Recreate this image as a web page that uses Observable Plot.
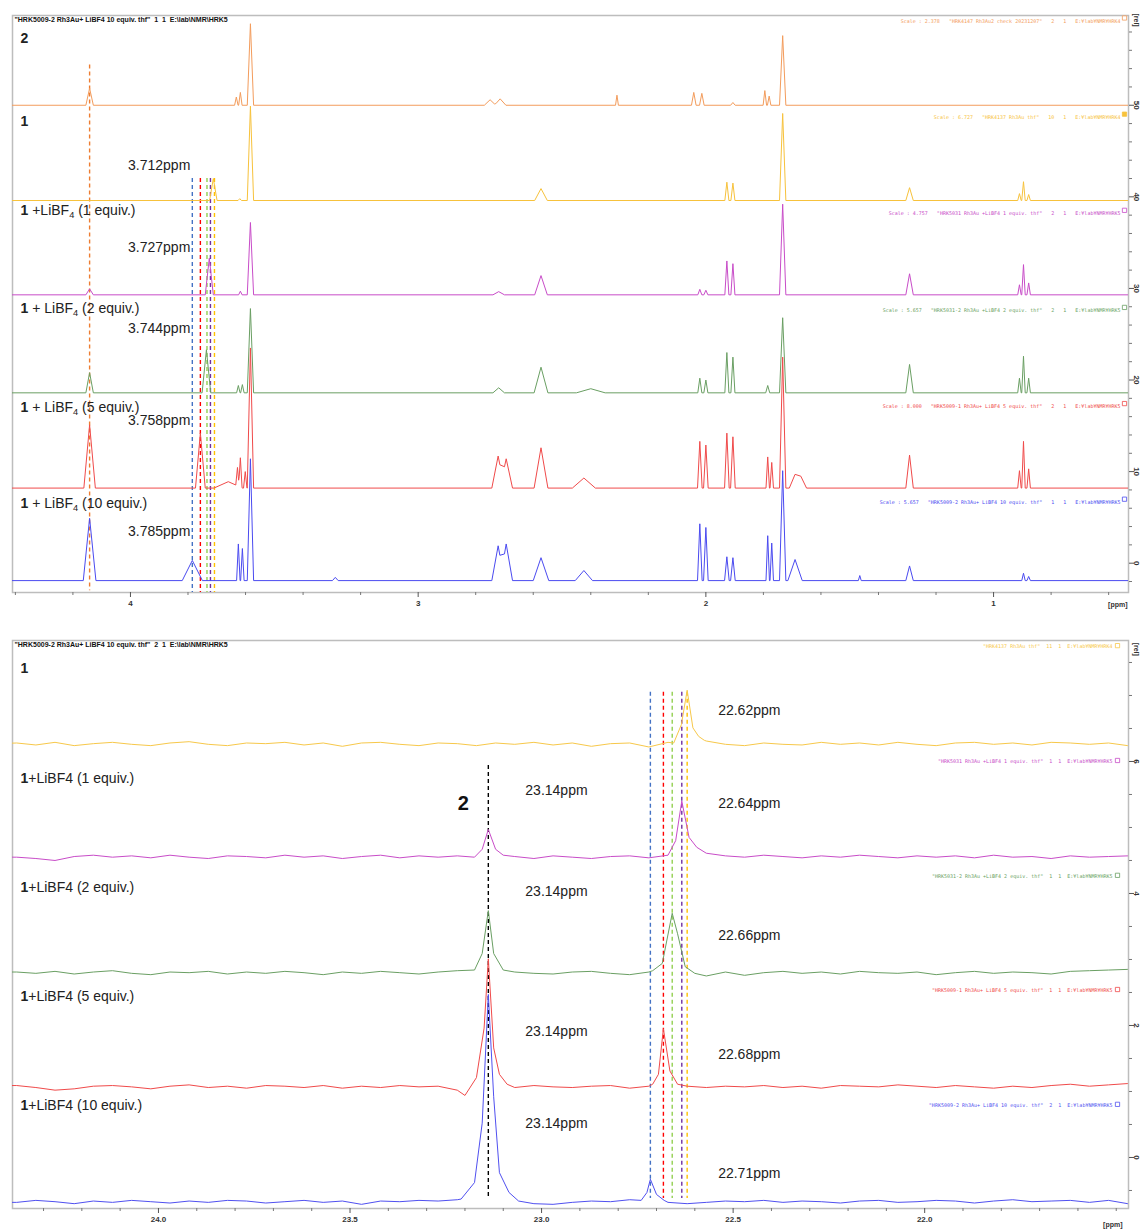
<!DOCTYPE html>
<html><head><meta charset="utf-8">
<script src="https://cdn.jsdelivr.net/npm/d3@7"></script>
<script src="https://cdn.jsdelivr.net/npm/@observablehq/plot@0.6"></script>
<style>
html,body{margin:0;padding:0;background:#fff;width:1140px;height:1230px;overflow:hidden;}
#top{position:absolute;left:0;top:0;}
#bot{position:absolute;left:0;top:625px;}
svg text{white-space:pre;}
</style></head><body><div id="top"></div><div id="bot"></div>
<script>
// ================= TOP PANEL (1H) DATA =================
// peaks: [ppm, height (rel), half-width (ppm)]
const orange2 = [[4.142,1.85,0.013],[3.632,0.9,0.006],[3.618,1.4,0.006],[3.583,8.9,0.011],[2.75,0.6,0.02],[2.715,0.7,0.02],[2.309,1.1,0.005],[2.042,1.4,0.008],[2.014,1.3,0.008],[1.906,0.3,0.008],[1.795,1.6,0.006],[1.780,1.0,0.006],[1.733,7.6,0.011]];
const yellow1 = [[3.712,2.4,0.013],[3.62,0.2,0.006],[3.583,10.3,0.011],[2.573,1.3,0.022],[1.927,2.0,0.007],[1.906,1.9,0.007],[1.733,9.5,0.011],[1.292,1.4,0.013],[0.910,0.75,0.006],[0.896,2.05,0.006],[0.878,0.65,0.006]];
const magenta1 = [[4.142,0.65,0.013],[3.726,4.0,0.014],[3.618,0.4,0.006],[3.583,7.9,0.011],[2.72,0.35,0.02],[2.573,2.1,0.022],[2.021,0.6,0.007],[2.0,0.5,0.007],[1.927,3.7,0.007],[1.906,3.4,0.007],[1.733,9.9,0.011],[1.292,2.3,0.013],[0.910,1.1,0.006],[0.896,3.3,0.006],[0.878,1.3,0.006]];
const green2 = [[4.142,2.2,0.013],[3.736,4.7,0.015],[3.625,0.8,0.006],[3.611,0.9,0.006],[3.583,9.2,0.011],[2.72,0.55,0.02],[2.573,2.8,0.024],[2.40,0.45,0.05],[2.021,1.6,0.007],[2.0,1.4,0.007],[1.927,4.4,0.007],[1.906,3.9,0.007],[1.785,0.8,0.007],[1.733,8.2,0.011],[1.292,3.1,0.013],[0.910,1.6,0.006],[0.896,4.0,0.006],[0.878,1.6,0.006]];
const red5 = [[4.142,6.9,0.02],[3.757,6.0,0.017],[3.66,0.7,0.05],[3.628,2.0,0.006],[3.618,3.2,0.006],[3.601,1.8,0.006],[3.583,15.3,0.011],[2.722,3.5,0.022],[2.694,3.2,0.022],[2.573,4.4,0.024],[2.424,1.1,0.04],[2.021,5.1,0.008],[2.0,4.7,0.008],[1.927,6.0,0.008],[1.906,5.6,0.008],[1.785,3.4,0.006],[1.771,2.8,0.006],[1.733,14.3,0.011],[1.69,1.5,0.02],[1.67,1.3,0.02],[1.292,3.6,0.013],[0.910,1.9,0.006],[0.896,5.1,0.006],[0.878,2.1,0.006]];
const blue10 = [[4.142,6.8,0.022],[3.785,2.2,0.035],[3.625,4.0,0.006],[3.611,3.5,0.006],[3.583,13.3,0.011],[3.288,0.35,0.01],[2.722,3.8,0.022],[2.694,4.0,0.022],[2.573,2.5,0.027],[2.424,1.1,0.03],[2.021,6.2,0.008],[2.0,5.8,0.008],[1.927,2.6,0.008],[1.906,2.5,0.008],[1.785,4.9,0.006],[1.771,4.1,0.006],[1.733,12.0,0.011],[1.69,2.3,0.025],[1.465,0.55,0.005],[1.292,1.6,0.013],[0.896,0.8,0.006],[0.878,0.45,0.006]];
const topOffsets = [50, 39.6, 29.3, 18.6, 8.2, -1.9];
const topColors = ["#f39c5c","#f7c23c","#c84cc8","#6a9f63","#f04a4a","#4a4af0"];
const topTraceLabels = ["**2**","**1**","**1** +LiBF_4 (1 equiv.)","**1** + LiBF_4 (2 equiv.)","**1** + LiBF_4 (5 equiv.)","**1** + LiBF_4 (10 equiv.)"];
const topTraceLabelY = [57.3, 48.25, 38.5, 27.8, 17.0, 6.55];
const topHeaders = [
 'Scale : 2.378   "HRK4147 Rh3Au2 check 20231207"   2   1   E:¥lab¥NMR¥HRK4',
 'Scale : 6.727   "HRK4137 Rh3Au thf"   10   1   E:¥lab¥NMR¥HRK4',
 'Scale : 4.757   "HRK5031 Rh3Au +LiBF4 1 equiv. thf"   2   1   E:¥lab¥NMR¥HRK5',
 'Scale : 5.657   "HRK5031-2 Rh3Au +LiBF4 2 equiv. thf"   2   1   E:¥lab¥NMR¥HRK5',
 'Scale : 8.000   "HRK5009-1 Rh3Au+ LiBF4 5 equiv. thf"   2   1   E:¥lab¥NMR¥HRK5',
 'Scale : 5.657   "HRK5009-2 Rh3Au+ LiBF4 10 equiv. thf"   1   1   E:¥lab¥NMR¥HRK5'];
const topHeaderY = [59.2, 48.7, 38.2, 27.6, 17.1, 6.66];
const topHeaderFilled = [false, true, false, false, false, false];
const topFileHeader = '"HRK5009-2 Rh3Au+ LiBF4 10 equiv. thf"  1  1  E:\\lab\\NMR\\HRK5';
const topShiftPpm = [3.785, 3.757, 3.734, 3.722, 3.708];
const topShiftColors = ["#4472c4","#ff0000","#92d050","#7030a0","#ffc000"];
const topShiftLabels = ["3.712ppm","3.727ppm","3.744ppm","3.758ppm","3.785ppm"];
const topShiftLabelY = [43.45, 34.5, 25.65, 15.6, 3.5];
const topRefPpm = 4.142;
const topXMajor = [4,3,2,1];
const topXMinor = [4.4,4.2,3.8,3.6,3.4,3.2,2.8,2.6,2.4,2.2,1.8,1.6,1.4,1.2,0.8,0.6];
const topYMajor = [0,10,20,30,40,50];
const topYMinor = [-2,2,4,6,8,12,14,16,18,22,24,26,28,32,34,36,38,42,44,46,48,52,54,56,58];

// ================= BOTTOM PANEL (31P) DATA =================
const gridB = [24.42,24.37,24.32,24.27,24.22,24.17,24.12,24.07,24.02,23.97,
 23.92,23.87,23.82,23.77,23.72,23.67,23.62,23.57,23.52,23.47,
 23.42,23.37,23.32,23.27,23.22,23.17,23.12,23.07,23.02,22.97,
 22.92,22.87,22.82,22.77,22.72,22.67,22.62,22.57,22.52,22.47,
 22.42,22.37,22.32,22.27,22.22,22.17,22.12,22.07,22.02,21.97,
 21.92,21.87,21.82,21.77,21.72,21.67,21.62,21.57,21.52,21.47,21.42];
const yellowN = [0.01,0.02,-0.01,0.03,-0.02,0.01,0.03,0.00,-0.02,0.02,
 0.04,0.00,-0.02,0.02,0.01,0.03,-0.01,0.02,-0.03,0.02,
 0.03,0.00,-0.02,0.02,0.01,-0.02,0.02,0.00,0.03,-0.01,
 0.02,-0.03,0.01,0.02,-0.04,0.03,0.00,0.05,0.00,-0.02,
 0.02,0.00,-0.01,0.03,0.00,0.02,-0.01,0.03,0.00,-0.02,
 0.02,0.03,0.00,0.02,-0.01,0.03,0.02,0.00,0.02,-0.02,-0.03];
const magentaN = [0.00,0.00,-0.02,-0.05,0.01,0.03,0.00,0.02,-0.01,0.03,
 0.00,-0.02,0.02,0.01,-0.01,0.03,0.00,0.02,-0.02,0.01,
 0.03,-0.01,0.02,0.00,0.02,0.00,0.00,0.01,-0.02,0.02,
 0.00,-0.02,0.01,0.02,-0.01,0.02,0.00,0.05,0.02,0.00,
 0.03,0.01,-0.01,0.02,0.00,0.03,0.01,-0.01,0.02,0.00,
 0.02,-0.01,0.03,0.00,0.01,-0.02,0.02,0.00,0.01,0.02,0.01];
const greenN = [0.02,0.02,0.00,0.03,-0.01,0.02,0.04,0.00,-0.02,0.02,
 0.01,0.03,-0.01,0.02,0.00,0.03,0.01,-0.02,0.02,0.00,
 0.03,0.01,-0.01,0.02,0.04,0.00,0.00,0.02,0.00,-0.01,
 0.02,0.03,0.00,-0.02,0.02,0.05,0.00,-0.04,0.02,-0.03,
 0.01,0.03,0.00,0.02,-0.01,0.03,0.01,0.00,0.02,-0.02,
 0.01,0.03,0.00,0.02,0.01,-0.01,0.03,0.04,0.05,0.06,0.06];
const redN = [0.03,0.03,0.00,-0.04,-0.02,0.02,0.03,0.01,-0.02,0.02,
 0.04,0.00,0.02,-0.01,0.03,0.02,0.00,0.03,-0.01,0.02,
 0.00,0.03,0.01,0.02,-0.04,0.00,0.00,0.00,0.03,0.01,
 0.00,0.02,0.03,-0.01,0.02,0.00,0.02,0.00,0.02,0.01,
 0.03,0.00,0.02,-0.01,0.03,0.02,0.01,0.04,0.02,0.00,
 0.03,0.01,-0.01,0.02,0.00,0.03,0.05,0.02,0.04,0.06,0.03];
const blueN = [0.00,0.00,0.03,0.01,-0.02,0.02,0.00,0.03,0.01,-0.01,
 0.02,0.00,0.03,0.02,-0.01,0.01,0.03,0.00,0.02,-0.03,
 0.02,0.01,0.03,0.02,0.04,0.00,0.00,0.00,-0.02,-0.03,
 0.00,0.02,0.01,0.04,0.00,0.00,-0.02,0.00,0.02,0.01,
 0.03,0.00,0.02,0.01,-0.01,0.02,0.03,0.00,0.01,0.03,
 0.02,-0.01,0.02,0.04,0.01,0.02,0.03,0.00,0.03,-0.02,-0.02];
// peak outlines: lists of [ppm, value] vertices
const yellowPk = [[[22.655,0.02],[22.635,0.3],[22.620,0.82],[22.605,0.25],[22.59,0.12],[22.575,0.06]]];
const magentaPk = [[[23.175,0.0],[23.155,0.12],[23.139,0.42],[23.12,0.12],[23.10,0.03]],
 [[22.67,0.03],[22.65,0.25],[22.634,0.85],[22.615,0.3],[22.595,0.15],[22.57,0.06]]];
const greenPk = [[[23.175,0.05],[23.155,0.3],[23.139,0.95],[23.125,0.3],[23.10,0.05]],
 [[22.71,0.04],[22.685,0.15],[22.659,0.91],[22.645,0.6],[22.625,0.1],[22.60,0.0]]];
const redPk = [[[23.20,-0.12],[23.17,0.15],[23.15,0.9],[23.139,1.95],[23.125,0.6],[23.11,0.2],[23.09,0.05]],
 [[22.71,0.05],[22.695,0.2],[22.682,0.89],[22.665,0.25],[22.645,0.05]]];
const bluePk = [[[23.21,0.05],[23.175,0.3],[23.155,1.2],[23.139,3.15],[23.125,1.6],[23.11,0.45],[23.085,0.15],[23.06,0.02]],
 [[22.74,0.03],[22.725,0.15],[22.716,0.35],[22.70,0.12],[22.68,0.03]]];
const botOffsets = [6.26, 4.55, 2.79, 1.06, -0.68];
const botColors = ["#f7c84a","#c84cc8","#6a9f63","#f04a4a","#5050f0"];
const botTraceLabels = ["**1**","**1**+LiBF4 (1 equiv.)","**1**+LiBF4 (2 equiv.)","**1**+LiBF4 (5 equiv.)","**1**+LiBF4 (10 equiv.)"];
const botTraceLabelY = [7.41, 5.74, 4.09, 2.44, 0.79];
const botHeaders = [
 '"HRK4137 Rh3Au thf"  11  1  E:¥lab¥NMR¥HRK4',
 '"HRK5031 Rh3Au +LiBF4 1 equiv. thf"  1  1  E:¥lab¥NMR¥HRK5',
 '"HRK5031-2 Rh3Au +LiBF4 2 equiv. thf"  1  1  E:¥lab¥NMR¥HRK5',
 '"HRK5009-1 Rh3Au+ LiBF4 5 equiv. thf"  1  1  E:¥lab¥NMR¥HRK5',
 '"HRK5009-2 Rh3Au+ LiBF4 10 equiv. thf"  2  1  E:¥lab¥NMR¥HRK5'];
const botHeaderY = [7.74, 6.0, 4.26, 2.53, 0.79];
const botFileHeader = '"HRK5009-2 Rh3Au+ LiBF4 10 equiv. thf"  2  1  E:\\lab\\NMR\\HRK5';
const botShiftPpm = [22.716, 22.682, 22.659, 22.634, 22.620];
const botShiftColors = ["#4472c4","#ff0000","#92d050","#7030a0","#ffc000"];
const botShiftLabels = ["22.62ppm","22.64ppm","22.66ppm","22.68ppm","22.71ppm"];
const botShiftLabelY = [6.77, 5.36, 3.36, 1.56, -0.24];
const compound2Ppm = 23.139;
const compound2Labels = ["23.14ppm","23.14ppm","23.14ppm","23.14ppm"];
const compound2LabelY = [5.56, 4.03, 1.91, 0.52];
const botXMajor = [24.0, 23.5, 23.0, 22.5, 22.0];
const botXMinor = [24.3,24.2,24.1,23.9,23.8,23.7,23.6,23.4,23.3,23.2,23.1,22.9,22.8,22.7,22.6,22.4,22.3,22.2,22.1,21.9,21.8,21.7,21.6,21.5];
const botYMajor = [0,2,4,6];
const botYMinor = [-0.5,0.5,1,1.5,2.5,3,3.5,4.5,5,5.5,6.5,7,7.5];

// ================= HELPERS =================
const NS = "http://www.w3.org/2000/svg";
function traceFromPeaks(peaks, lo, hi) {
  const xs = new Set([lo, hi]);
  for (const [p,, w] of peaks) { xs.add(p - w); xs.add(p); xs.add(p + w); }
  return [...xs].sort((a, b) => b - a).map(x => [x, d3.sum(peaks, ([p, h, w]) => Math.max(0, h * (1 - Math.abs(x - p) / w)))]);
}
function traceFromVertices(grid, noise, peaks) {
  const spans = peaks.map(v => [d3.min(v, d => d[0]), d3.max(v, d => d[0])]);
  const pts = grid.map((p, i) => [p, noise[i] ?? 0]).filter(([p]) => !spans.some(([a, b]) => p >= a && p <= b));
  peaks.forEach(v => pts.push(...v));
  return pts.sort((a, b) => b[0] - a[0]);
}
function richify(root) {
  root.querySelectorAll("text").forEach(t => {
    const s = t.textContent;
    if (!s.includes("**") && !s.includes("_")) return;
    while (t.firstChild) t.removeChild(t.firstChild);
    const re = /\*\*([^*]+)\*\*|_(\w)|([^*_]+)/g;
    let m, shift = 0;
    while ((m = re.exec(s))) {
      const ts = document.createElementNS(NS, "tspan");
      if (m[1] != null) { ts.textContent = m[1]; ts.setAttribute("font-weight", "bold"); }
      else if (m[2] != null) {
        ts.textContent = m[2]; ts.setAttribute("font-size", "0.66em"); ts.setAttribute("dy", "3");
        shift = 3; t.appendChild(ts); continue;
      } else ts.textContent = m[3];
      if (shift) { ts.setAttribute("dy", String(-shift)); shift = 0; }
      t.appendChild(ts);
    }
  });
}
const FONT = "'Liberation Sans', Arial, sans-serif";
const MONO = "'DejaVu Sans Mono', monospace";
const FRAME = "#bdbdbd";

// ================= TOP PLOT =================
const topX = [4.41, 0.531], topY = [-3.2, 59.8];
const topLines = [orange2, yellow1, magenta1, green2, red5, blue10].map((pk, i) =>
  Plot.line(traceFromPeaks(pk, 4.45, 0.5).map(([x, v]) => ({x, y: topOffsets[i] + v})),
    {x: "x", y: "y", stroke: topColors[i], strokeWidth: 1, clip: true}));
const topRules = topShiftPpm.map((p, i) => ({x: p, y1: 42.0, y2: topY[0], c: topShiftColors[i]}));
topRules.unshift({x: topRefPpm, y1: 54.4, y2: -3.0, c: "#ed7d31"});
const topHdr = topHeaders.map((t, i) => ({t, y: topHeaderY[i], c: topColors[i], f: topHeaderFilled[i] ? topColors[i] : "white"}));

const topPlot = Plot.plot({
  width: 1140, height: 615, marginTop: 15, marginBottom: 23, marginLeft: 12, marginRight: 12,
  x: {domain: topX}, y: {domain: topY}, color: {type: "identity"},
  style: {fontFamily: FONT, color: "#333", background: "white", overflow: "visible"},
  marks: [
    Plot.frame({stroke: FRAME, strokeWidth: 1.5}),
    Plot.ruleX(topRules, {x: "x", y1: "y1", y2: "y2", stroke: "c", strokeWidth: 1.4, strokeDasharray: "4,3"}),
    ...topLines,
    Plot.axisX({ticks: topXMajor, label: null, tickSize: 5, tickPadding: 3, tickFormat: d => String(d), fontSize: 8, fontWeight: "bold", stroke: "#555"}),
    Plot.axisX({ticks: topXMinor, label: null, tickSize: 3, tickFormat: () => "", stroke: "#777"}),
    Plot.axisY({anchor: "right", label: null, ticks: topYMajor, tickSize: 5, tickFormat: () => "", stroke: "#555"}),
    Plot.axisY({anchor: "right", label: null, ticks: topYMinor, tickSize: 3, tickFormat: () => "", stroke: "#777"}),
    Plot.text(topYMajor, {y: d => d, text: d => String(d), frameAnchor: "right", textAnchor: "middle", dx: 8, rotate: 90, fontSize: 8, fontWeight: "bold", fill: "#333"}),
    Plot.text(["[rel]"], {y: () => 59.3, frameAnchor: "right", textAnchor: "middle", dx: 8, rotate: 90, fontSize: 7, fontWeight: "bold", fill: "#333"}),
    Plot.text(["[ppm]"], {frameAnchor: "bottom-right", textAnchor: "end", dx: -1, dy: 14, fontSize: 7, fontWeight: "bold", fill: "#333"}),
    Plot.text([topFileHeader], {frameAnchor: "top-left", dx: 2, dy: 2, fontSize: 7, fontWeight: "bold", fill: "#111"}),
    Plot.text(topHdr, {y: "y", text: "t", fill: "c", frameAnchor: "right", textAnchor: "end", dx: -8, fontSize: 5, fontFamily: MONO}),
    Plot.dot(topHdr, {y: "y", frameAnchor: "right", dx: -4, dy: -3, symbol: "square", r: 2.4, stroke: "c", fill: "f", strokeWidth: 0.8}),
    Plot.text(topTraceLabels, {y: (d, i) => topTraceLabelY[i], text: d => d, frameAnchor: "left", textAnchor: "start", dx: 8, fontSize: 14, fill: "#222"}),
    Plot.text(topShiftLabels, {x: () => topShiftPpm[0], y: (d, i) => topShiftLabelY[i], text: d => d, textAnchor: "end", dx: -2, fontSize: 14, fill: "#222"})
  ]
});
richify(topPlot);
document.getElementById("top").appendChild(topPlot);

// ================= BOTTOM PLOT =================
const botX = [24.381, 21.468], botY = [-0.773, 7.833];
const botLines = [[yellowN, yellowPk], [magentaN, magentaPk], [greenN, greenPk], [redN, redPk], [blueN, bluePk]].map(([n, pk], i) =>
  Plot.line(traceFromVertices(gridB, n, pk).map(([x, v]) => ({x, y: botOffsets[i] + v})),
    {x: "x", y: "y", stroke: botColors[i], strokeWidth: 1, clip: true}));
const botRules = botShiftPpm.map((p, i) => ({x: p, y1: 7.05, y2: -0.62, c: botShiftColors[i]}));
botRules.unshift({x: compound2Ppm, y1: 5.94, y2: -0.62, c: "#000000"});
const botHdr = botHeaders.map((t, i) => ({t, y: botHeaderY[i], c: botColors[i]}));

const botPlot = Plot.plot({
  width: 1140, height: 605, marginTop: 15, marginBottom: 22, marginLeft: 12, marginRight: 12,
  x: {domain: botX}, y: {domain: botY}, color: {type: "identity"},
  style: {fontFamily: FONT, color: "#333", background: "white", overflow: "visible"},
  marks: [
    Plot.frame({stroke: FRAME, strokeWidth: 1.5}),
    Plot.ruleX(botRules, {x: "x", y1: "y1", y2: "y2", stroke: "c", strokeWidth: 1.4, strokeDasharray: "4,3"}),
    ...botLines,
    Plot.axisX({ticks: botXMajor, label: null, tickSize: 5, tickPadding: 3, tickFormat: d3.format(".1f"), fontSize: 8, fontWeight: "bold", stroke: "#555"}),
    Plot.axisX({ticks: botXMinor, label: null, tickSize: 3, tickFormat: () => "", stroke: "#777"}),
    Plot.axisY({anchor: "right", label: null, ticks: botYMajor, tickSize: 5, tickFormat: () => "", stroke: "#555"}),
    Plot.axisY({anchor: "right", label: null, ticks: botYMinor, tickSize: 3, tickFormat: () => "", stroke: "#777"}),
    Plot.text(botYMajor, {y: d => d, text: d => String(d), frameAnchor: "right", textAnchor: "middle", dx: 8, rotate: 90, fontSize: 8, fontWeight: "bold", fill: "#333"}),
    Plot.text(["[rel]"], {y: () => 7.7, frameAnchor: "right", textAnchor: "middle", dx: 8, rotate: 90, fontSize: 7, fontWeight: "bold", fill: "#333"}),
    Plot.text(["[ppm]"], {frameAnchor: "bottom-right", textAnchor: "end", dx: -6, dy: 18, fontSize: 7, fontWeight: "bold", fill: "#333"}),
    Plot.text([botFileHeader], {frameAnchor: "top-left", dx: 2, dy: 2, fontSize: 7, fontWeight: "bold", fill: "#111"}),
    Plot.text(botHdr, {y: "y", text: "t", fill: "c", frameAnchor: "right", textAnchor: "end", dx: -16, fontSize: 5, fontFamily: MONO}),
    Plot.dot(botHdr, {y: "y", frameAnchor: "right", dx: -11, dy: -1, symbol: "square", r: 2.4, stroke: "c", fill: "white", strokeWidth: 0.8}),
    Plot.text(botTraceLabels, {y: (d, i) => botTraceLabelY[i], text: d => d, frameAnchor: "left", textAnchor: "start", dx: 8, fontSize: 14, fill: "#222"}),
    Plot.text(botShiftLabels, {x: (d, i) => botShiftPpm[4], y: (d, i) => botShiftLabelY[i], text: d => d, textAnchor: "start", dx: 31, fontSize: 14, fill: "#222"}),
    Plot.text(compound2Labels, {x: () => compound2Ppm, y: (d, i) => compound2LabelY[i], text: d => d, textAnchor: "start", dx: 37, fontSize: 14, fill: "#222"}),
    Plot.text(["**2**"], {x: () => compound2Ppm, y: () => 5.36, text: d => d, textAnchor: "middle", dx: -25, fontSize: 20, fill: "#111"})
  ]
});
richify(botPlot);
document.getElementById("bot").appendChild(botPlot);
</script></body></html>
